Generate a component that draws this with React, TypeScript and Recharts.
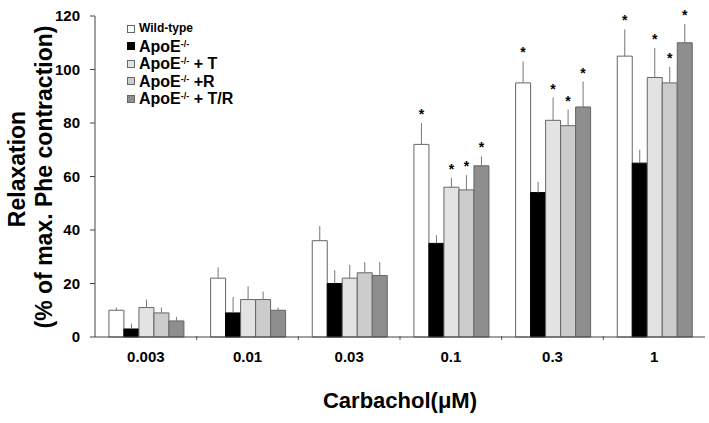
import React from 'react';
import { BarChart, Bar, XAxis, YAxis, ErrorBar, LabelList, Legend } from 'recharts';

const FONT = "Arial, 'Liberation Sans', sans-serif";

// carbachol doses (µM)
const doses = ['0.003', '0.01', '0.03', '0.1', '0.3', '1'];

const wildType = [10, 22, 36, 72, 95, 105];
const wildTypeErr = [1, 4, 5.5, 8, 8, 10];
const apoE = [3, 9, 20, 35, 54, 65];
const apoEErr = [2, 6, 5, 3, 4, 5];
const apoET = [11, 14, 22, 56, 81, 97];
const apoETErr = [3, 5, 5, 3.5, 8.5, 11];
const apoER = [9, 14, 24, 55, 79, 95];
const apoERErr = [2, 3, 4, 5.5, 6, 6];
const apoETR = [6, 10, 23, 64, 86, 110];
const apoETRErr = [1.5, 1, 5, 3.5, 9.5, 7];

// significance stars (1 = *)
const wildTypeSig = [0, 0, 0, 1, 1, 1];
const apoESig = [0, 0, 0, 0, 0, 0];
const apoETSig = [0, 0, 0, 1, 1, 1];
const apoERSig = [0, 0, 0, 1, 1, 1];
const apoETRSig = [0, 0, 0, 1, 1, 1];

const yTicks = [0, 20, 40, 60, 80, 100, 120];

const series = [
  { key: 'wt', values: wildType, errs: wildTypeErr, sig: wildTypeSig, fill: '#ffffff', stroke: '#666666', base: 'Wild-type', sup: '', suffix: '', size: 12 },
  { key: 'ko', values: apoE, errs: apoEErr, sig: apoESig, fill: '#000000', stroke: '#000000', base: 'ApoE', sup: '-/-', suffix: '', size: 16 },
  { key: 't', values: apoET, errs: apoETErr, sig: apoETSig, fill: '#e3e3e3', stroke: '#666666', base: 'ApoE', sup: '-/-', suffix: ' + T', size: 16 },
  { key: 'r', values: apoER, errs: apoERErr, sig: apoERSig, fill: '#cccccc', stroke: '#666666', base: 'ApoE', sup: '-/-', suffix: ' +R', size: 16 },
  { key: 'tr', values: apoETR, errs: apoETRErr, sig: apoETRSig, fill: '#8e8e8e', stroke: '#666666', base: 'ApoE', sup: '-/-', suffix: ' + T/R', size: 16 },
];

const data = doses.map((dose, i) => {
  const row: any = { dose };
  series.forEach((s) => {
    row[s.key] = s.values[i];
    row[s.key + 'Err'] = [0, s.errs[i]];
  });
  return row;
});

const makeStar = (errs: number[], sig: number[]) => (props: any) => {
  const { x, y, width, height, value, index } = props;
  if (!sig[index] || !value) return null;
  const pxPerUnit = Number(height) / Number(value);
  const top = Number(y) - errs[index] * pxPerUnit;
  return (
    <text x={Number(x) + Number(width) / 2} y={top - 4} textAnchor="middle" fontSize={14} fontWeight="bold" fontFamily={FONT} fill="#000">
      *
    </text>
  );
};

const DoseTick = (props: any) => {
  const { x, y, payload, index } = props;
  const half = payload && payload.offset ? payload.offset : 51;
  return (
    <g>
      {index > 0 && <line x1={x - half} x2={x - half} y1={y - 1} y2={y + 3} stroke="#555" />}
      <text x={x} y={y + 25} textAnchor="middle" fontSize={15} fontWeight="bold" fontFamily={FONT} fill="#000">
        {payload.value}
      </text>
    </g>
  );
};

const renderLegend = () => (
  <div style={{ fontFamily: FONT, fontWeight: 'bold', color: '#000', lineHeight: '17.5px' }}>
    {series.map((s) => (
      <div key={s.key} style={{ display: 'flex', alignItems: 'center', height: 17.5, whiteSpace: 'nowrap' }}>
        <span style={{ display: 'inline-block', width: 6, height: 6, background: s.fill, border: `1px solid ${s.stroke}`, marginRight: 4 }} />
        <span style={{ fontSize: s.size }}>
          {s.base}
          {s.sup && <sup style={{ fontSize: 9, verticalAlign: 'top', position: 'relative', top: -2 }}>{s.sup}</sup>}
          {s.suffix}
        </span>
      </div>
    ))}
  </div>
);

export default function App() {
  return (
    <div style={{ position: 'absolute', left: 0, top: 0, width: 709, height: 423, background: '#fff' }}>
      <BarChart
        width={709}
        height={423}
        data={data}
        margin={{ top: 16, right: 4, left: 35, bottom: 56 }}
        barCategoryGap="13.7%"
        barGap={0}
      >
        <XAxis
          dataKey="dose"
          height={30}
          tickLine={false}
          tickSize={0}
          tickMargin={0}
          axisLine={{ stroke: '#444' }}
          tick={<DoseTick />}
          interval={0}
        />
        <YAxis
          width={60}
          domain={[0, 120]}
          ticks={yTicks}
          interval={0}
          tickSize={5}
          tickMargin={10}
          axisLine={{ stroke: '#444' }}
          tickLine={{ stroke: '#444' }}
          tick={{ fontSize: 15, fontWeight: 'bold', fill: '#000', fontFamily: FONT }}
        />
        <Legend
          layout="vertical"
          align="center"
          verticalAlign="middle"
          content={renderLegend}
          wrapperStyle={{ left: 127, top: 20, width: 160 }}
        />
        {series.map((s) => (
          <Bar key={s.key} dataKey={s.key} fill={s.fill} stroke={s.stroke} strokeWidth={1} isAnimationActive={false}>
            <ErrorBar dataKey={s.key + 'Err'} width={0} stroke="#777" strokeWidth={1} direction="y" />
            <LabelList dataKey={s.key} content={makeStar(s.errs, s.sig)} />
          </Bar>
        ))}
      </BarChart>
      <svg width={709} height={423} style={{ position: 'absolute', left: 0, top: 0, pointerEvents: 'none' }}>
        <text transform="translate(25,169) rotate(-90)" textAnchor="middle" fontSize={23} fontWeight="bold" fontFamily={FONT} fill="#000">
          Relaxation
        </text>
        <text transform="translate(52,177) rotate(-90)" textAnchor="middle" fontSize={23} fontWeight="bold" fontFamily={FONT} fill="#000">
          (% of max. Phe contraction)
        </text>
        <text x={400} y={408} textAnchor="middle" fontSize={22} fontWeight="bold" fontFamily={FONT} fill="#000">
          Carbachol(μM)
        </text>
      </svg>
    </div>
  );
}
